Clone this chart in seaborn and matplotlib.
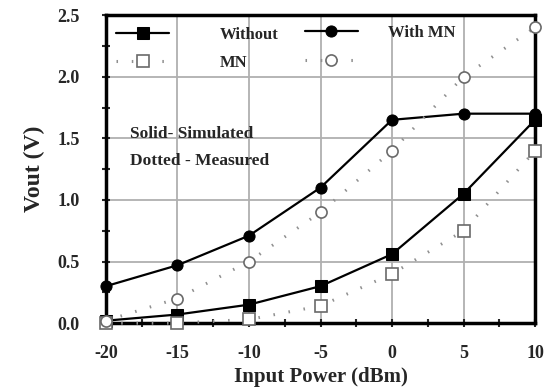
import matplotlib
matplotlib.use("Agg")
import matplotlib.pyplot as plt
import seaborn as sns
from matplotlib.ticker import MultipleLocator, FormatStrFormatter

sns.set_style("white")
plt.rcParams['font.family'] = ['Liberation Serif', 'DejaVu Serif']
plt.rcParams['font.weight'] = 'bold'
plt.rcParams['axes.unicode_minus'] = False

# input power (dBm)
pin = [-20, -15, -10, -5, 0, 5, 10]

# Vout (V)
without_sim = [0.02, 0.07, 0.15, 0.30, 0.56, 1.05, 1.65]
without_meas = [0.00, 0.00, 0.03, 0.14, 0.40, 0.75, 1.40]
with_sim = [0.30, 0.47, 0.71, 1.10, 1.65, 1.70, 1.70]
with_meas = [0.02, 0.20, 0.50, 0.90, 1.40, 2.00, 2.40]

fig = plt.figure(figsize=(5.46, 3.87), dpi=100)
ax = fig.add_axes([0.194, 0.165, 0.786, 0.796])

ax.grid(True, color='#b0b0b0', linewidth=1.3, zorder=0)

dots = (0, (0.5, 4.5))
l1 = sns.lineplot(x=pin, y=without_sim, ax=ax, color='black', linewidth=1.6,
                  marker='s', markersize=8, markerfacecolor='black',
                  markeredgecolor='black', clip_on=False, zorder=3).lines[-1]
l2 = sns.lineplot(x=pin, y=without_meas, ax=ax, color='#909090', linewidth=2.2,
                  linestyle=dots, marker='s', markersize=8,
                  markerfacecolor='white', markeredgecolor='#6a6a6a',
                  markeredgewidth=1.2, clip_on=False, zorder=3).lines[-1]
l3 = sns.lineplot(x=pin, y=with_sim, ax=ax, color='black', linewidth=1.6,
                  marker='o', markersize=8, markerfacecolor='black',
                  markeredgecolor='black', clip_on=False, zorder=3).lines[-1]
l4 = sns.lineplot(x=pin, y=with_meas, ax=ax, color='#909090', linewidth=2.2,
                  linestyle=dots, marker='o', markersize=8,
                  markerfacecolor='white', markeredgecolor='#6a6a6a',
                  markeredgewidth=1.2, clip_on=False, zorder=3).lines[-1]

ax.set_xlim(-20, 10)
ax.set_ylim(0, 2.5)
ax.xaxis.set_major_locator(MultipleLocator(5))
ax.xaxis.set_minor_locator(MultipleLocator(2.5))
ax.yaxis.set_major_locator(MultipleLocator(0.5))
ax.yaxis.set_minor_locator(MultipleLocator(0.25))
ax.yaxis.set_major_formatter(FormatStrFormatter('%.1f'))
ax.tick_params(which='both', direction='inout', length=6, width=1.5,
               bottom=True, left=True)
ax.tick_params(axis='x', labelsize=13, pad=13)
ax.tick_params(axis='y', labelsize=13, pad=16)

for s in ax.spines.values():
    s.set_linewidth(2.5)
    s.set_color('black')

ax.set_xlabel('Input Power (dBm)', fontsize=15, fontweight='bold', labelpad=3)
ax.set_ylabel('Vout (V)', fontsize=17, fontweight='bold', labelpad=9)

ax.text(-18.3, 1.60, 'Solid- Simulated\nDotted - Measured', fontsize=12.5,
        fontweight='bold', va='top', ha='left', linespacing=1.9)

leg1 = ax.legend([l1, l2], ['Without', 'MN'], loc='upper left',
                 bbox_to_anchor=(0.016, 0.972), borderaxespad=0, borderpad=0.2,
                 frameon=False, fontsize=12, handlelength=3.2,
                 handletextpad=3.0, labelspacing=0.7)
ax.add_artist(leg1)
ax.legend([l3, l4], ['With MN', ''], loc='upper left',
          bbox_to_anchor=(0.455, 0.98), borderaxespad=0, borderpad=0.2,
          frameon=False, fontsize=12, handlelength=3.2,
          handletextpad=1.8, labelspacing=0.8)

fig.savefig('out.png', dpi=100)
